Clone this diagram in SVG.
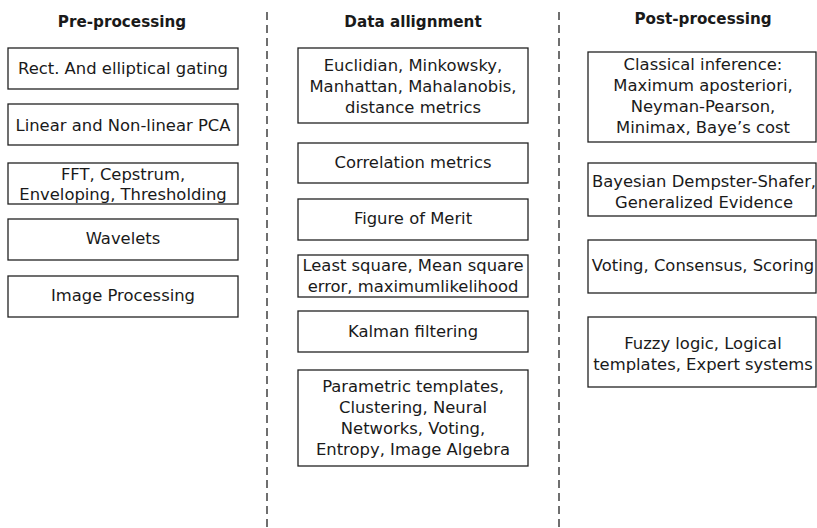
<svg xmlns="http://www.w3.org/2000/svg" width="817" height="528" viewBox="0 0 817 528">
<style>
rect.b{fill:#fff;stroke:#222;stroke-width:1.3}
text{font-family:"DejaVu Sans",Verdana,sans-serif;font-size:16.4px;fill:#1a1a1a;text-anchor:middle}
text.h{font-weight:bold;font-size:15.2px}
line.d{stroke:#333;stroke-width:1.4;stroke-dasharray:8,5}
</style>
<rect width="817" height="528" fill="#fff"/>
<g id="connectors">
<line class="d" x1="267" y1="12" x2="267" y2="528"/>
<line class="d" x1="559" y1="12" x2="559" y2="528"/>
</g>
<text class="h" x="122" y="27">Pre-processing</text>
<text class="h" x="413" y="27">Data allignment</text>
<text class="h" x="703" y="24">Post-processing</text>
<g id="p1"><rect class="b" x="8" y="48" width="230" height="41"/><text x="123" y="74">Rect. And elliptical gating</text></g>
<g id="p2"><rect class="b" x="8" y="104" width="230" height="41"/><text x="123" y="131">Linear and Non-linear PCA</text></g>
<g id="p3"><rect class="b" x="8" y="163" width="230" height="41"/><text x="123" y="180">FFT, Cepstrum,</text><text x="123" y="200">Enveloping, Thresholding</text></g>
<g id="p4"><rect class="b" x="8" y="219" width="230" height="41"/><text x="123" y="244">Wavelets</text></g>
<g id="p5"><rect class="b" x="8" y="276" width="230" height="41"/><text x="123" y="301">Image Processing</text></g>
<g id="d1"><rect class="b" x="298" y="48" width="230" height="75"/><text x="413" y="71">Euclidian, Minkowsky,</text><text x="413" y="92">Manhattan, Mahalanobis,</text><text x="413" y="113">distance metrics</text></g>
<g id="d2"><rect class="b" x="298" y="143" width="230" height="40"/><text x="413" y="168">Correlation metrics</text></g>
<g id="d3"><rect class="b" x="298" y="199" width="230" height="41"/><text x="413" y="224">Figure of Merit</text></g>
<g id="d4"><rect class="b" x="298" y="255" width="230" height="42"/><text x="413" y="271">Least square, Mean square</text><text x="413" y="292">error, maximumlikelihood</text></g>
<g id="d5"><rect class="b" x="298" y="311" width="230" height="41"/><text x="413" y="337">Kalman filtering</text></g>
<g id="d6"><rect class="b" x="298" y="370" width="230" height="96"/><text x="413" y="392">Parametric templates,</text><text x="413" y="413">Clustering, Neural</text><text x="413" y="434">Networks, Voting,</text><text x="413" y="455">Entropy, Image Algebra</text></g>
<g id="r1"><rect class="b" x="588" y="52" width="228" height="90"/><text x="703" y="70">Classical inference:</text><text x="703" y="91">Maximum aposteriori,</text><text x="703" y="112">Neyman-Pearson,</text><text x="703" y="133">Minimax, Baye’s cost</text></g>
<g id="r2"><rect class="b" x="588" y="163" width="228" height="53"/><text x="704" y="187">Bayesian Dempster-Shafer,</text><text x="704" y="208">Generalized Evidence</text></g>
<g id="r3"><rect class="b" x="588" y="240" width="228" height="53"/><text x="703" y="271">Voting, Consensus, Scoring</text></g>
<g id="r4"><rect class="b" x="588" y="317" width="228" height="70"/><text x="703" y="349">Fuzzy logic, Logical</text><text x="703" y="370">templates, Expert systems</text></g>
</svg>
